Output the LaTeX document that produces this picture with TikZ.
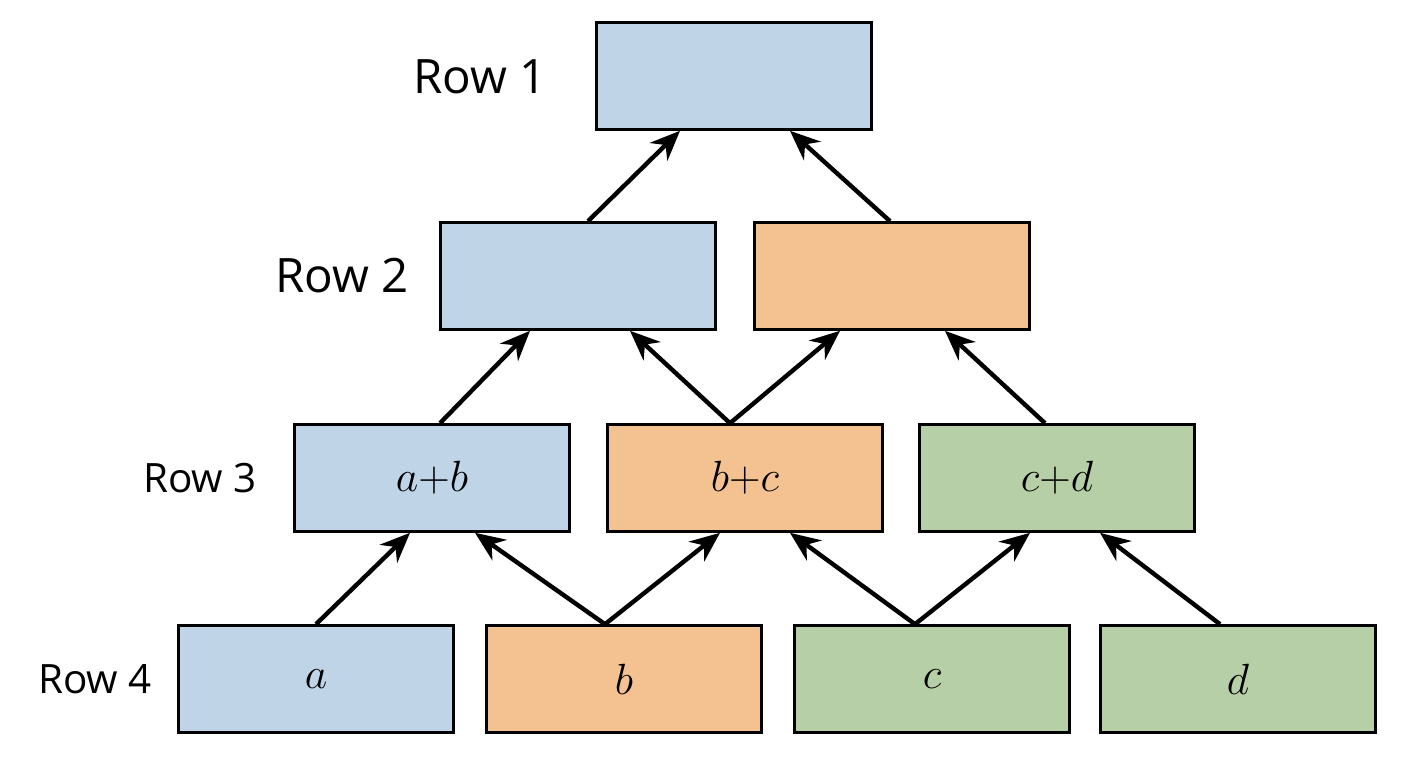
\documentclass[tikz,border=0pt]{standalone}
\usepackage{fontspec}
\setmainfont{Open Sans}
\usetikzlibrary{arrows.meta}
\definecolor{boxblue}{HTML}{BFD4E6}
\definecolor{boxorange}{HTML}{F4C290}
\definecolor{boxgreen}{HTML}{B6CFA6}
\tikzset {
  x=0.02cm, y=-0.02cm,
  % rectangles of the pyramid
  cell/.style = {draw, line width=1.5pt, minimum width=5.5cm, minimum height=2.14cm, inner sep=0pt, font=\fontsize{34}{40}\selectfont\itshape},
  blue/.style={cell, fill=boxblue},
  orange/.style={cell, fill=boxorange},
  green/.style={cell, fill=boxgreen},
  % row names on the left
  rowname/.style={font=\fontsize{27}{32}\selectfont},
  small/.style={font=\fontsize{23}{28}\selectfont},
  up/.style={-{Stealth[length=6mm,width=5mm]}, line width=2.5pt},
}
\begin{document}
\begin{tikzpicture}
  \useasboundingbox (0,0) rectangle (1408,768);

  \node[blue] (r1) at (734, 76) {};

  \node[blue]   (l2) at (578, 276) {};
  \node[orange] (r2) at (892, 276) {};

  \node[blue]   (ab) at (432, 478) {$a{+}b$};
  \node[orange] (bc) at (745, 478) {$b{+}c$};
  \node[green]  (cd) at (1057, 478) {$c{+}d$};

  \node[blue]   (a) at (316, 679) {$a$};
  \node[orange] (b) at (624, 679) {$b$};
  \node[green]  (c) at (932, 679) {$c$};
  \node[green]  (d) at (1238, 679) {$d$};

  \node[rowname] (t1) at (480, 77) {Row 1};
  \node[rowname] (t2) at (342, 276) {Row 2};
  \node[small]   (t3) at (200, 478) {Row 3};
  \node[small]   (t4) at (95, 679) {Row 4};

  % row 4 to row 3
  \draw [up] ([xshift=0cm]a.north) -- ([xshift=-0.44cm]ab.south);
  \draw [up] ([xshift=-0.38cm]b.north) -- ([xshift=0.86cm]ab.south);
  \draw [up] ([xshift=-0.38cm]b.north) -- ([xshift=-0.5cm]bc.south);
  \draw [up] ([xshift=-0.34cm]c.north) -- ([xshift=0.9cm]bc.south);
  \draw [up] ([xshift=-0.34cm]c.north) -- ([xshift=-0.54cm]cd.south);
  \draw [up] ([xshift=-0.36cm]d.north) -- ([xshift=0.86cm]cd.south);

  % row 3 to row 2
  \draw [up] ([xshift=0.16cm]ab.north) -- ([xshift=-0.96cm]l2.south);
  \draw [up] ([xshift=-0.3cm]bc.north) -- ([xshift=1.04cm]l2.south);
  \draw [up] ([xshift=-0.3cm]bc.north) -- ([xshift=-1.04cm]r2.south);
  \draw [up] ([xshift=-0.24cm]cd.north) -- ([xshift=1.06cm]r2.south);

  % row 2 to row 1
  \draw [up] ([xshift=0.2cm]l2.north) -- ([xshift=-1.08cm]r1.south);
  \draw [up] ([xshift=-0.04cm]r2.north) -- ([xshift=1.12cm]r1.south);
\end{tikzpicture}
\end{document}
